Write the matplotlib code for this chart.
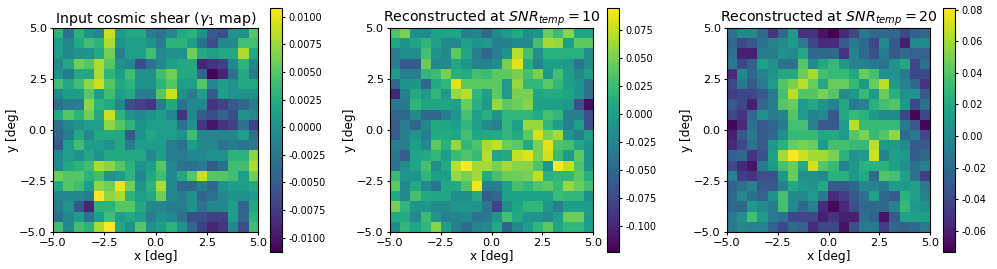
import numpy as np
import matplotlib
matplotlib.use('Agg')
import matplotlib.pyplot as plt

# mapas, fila superior primero
# gamma1 en unidades de 1e-3
mapa_input = [
    [3, -3, 3, 0, -1, 9, 1, 2, 2, -2, -3, -1, 2, 3, 0, -5, -6, 0, 0, 5],
    [1, -1, 2, 4, 3, 8, 0, 1, 1, 0, -2, 3, 3, 1, -3, -6, -1, -1, 4, 4],
    [1, -1, 0, 0, 2, 6, -2, 1, 1, 4, -1, 0, 0, 6, 2, 1, 2, 2, 8, 2],
    [-1, 2, 6, 5, 8, 5, 0, -1, -6, -3, -1, 1, 2, 2, -9, -8, -7, -1, 3, -1],
    [0, -2, 2, 2, 8, 3, 1, 4, 0, 0, 4, 6, 2, 2, -4, -11, -9, -3, 2, -2],
    [4, 2, 4, 7, 9, 5, 2, 3, 0, 0, 3, 5, 1, 1, 5, -1, 1, 0, 2, 2],
    [-1, 1, 1, 5, 1, 4, 1, 2, -2, -2, 5, 9, 0, -2, 1, -5, 1, 0, 0, 0],
    [-3, -2, -2, 7, 3, 2, -1, -6, -7, -8, -2, 2, -3, -1, -1, -8, -7, -5, -4, -2],
    [2, 5, 3, 6, 2, 9, 3, 0, -1, 0, 1, -1, -8, -1, -5, -6, -4, -6, 0, -1],
    [-3, -1, 0, 1, 1, 7, 5, 3, 0, 1, 1, 1, -3, 0, -8, -10, -8, -7, -3, -7],
    [-4, -2, 2, -1, 2, 2, 2, -5, 0, 2, 1, 1, 0, 4, -1, -1, -1, -1, 1, -3],
    [-5, 1, 4, 1, 1, 0, 2, -2, 1, 1, 1, -2, -3, 1, -1, -1, -3, -2, -3, -2],
    [-1, 1, 0, 2, 0, 2, 2, 2, 2, -1, 1, -2, -2, -1, -1, 0, 0, 3, 3, 7],
    [-1, 2, 3, 4, 8, 7, 5, 3, 0, 1, 5, -1, -3, -3, -2, -5, -3, 4, 4, 8],
    [6, 5, 5, 3, 4, 0, 1, 3, -1, 2, 4, -1, 2, 5, 9, 5, 5, 4, 1, 6],
    [2, 5, 4, 1, 7, 6, 10, 6, 0, 3, 8, -1, -4, -4, -2, -4, 0, 1, 1, 2],
    [-1, -1, -1, -2, 11, 7, 8, 3, 1, 2, 6, -1, -2, 0, -4, -3, -1, 0, 0, 1],
    [-2, 0, -5, -9, 3, 3, 5, 5, 2, -1, -1, -2, -2, 0, -3, -1, -1, 1, -4, 2],
    [-3, -1, 1, -3, 1, 4, 1, 2, 1, -2, 0, -1, -3, -6, -6, -7, -7, 1, -4, 3],
    [4, -1, 4, 3, 8, 11, 2, 0, 5, 0, 1, 3, 0, -4, -7, -9, -8, -1, -6, 4],
]

# reconstruidos en unidades de 1e-2
mapa_snr10 = [
    [3.5, 5, -1.5, -2, 0, 0.5, 0.5, -3, -2.5, -5, -2, -0.5, 1, -1.5, -1, 4.5, 2.5, 5.5, 0.5, 0.5],
    [0.5, -1, 0.5, 2, 0, -2, -2, 0, -1, -0.5, -3, -3, -2, -2, 3, 6.5, 6, 0, 4, 4],
    [-3, -1.5, -1.5, 3, -1, -2, 4, 0.5, -3, -5, -3, -1, 7, 3, -1.5, 1.5, 1.5, 1.5, 1.5, -1.5],
    [-3, -6, -6, 4.5, -2, -2, 0.5, -1, -2.5, -2.5, -1.5, 5, 8.5, 1, -2.5, 0, 0, -0.5, -4, -1.5],
    [-0.5, -3, -3, 2, 2.5, 5, 1.5, 1, 3, 2.5, 4, 4, 5, 3, 5, -0.5, 3, 0, -2, 0],
    [-5, -1, -1, -5, 1, 2, 8.5, 4, 4, 4, 4, -0.5, 6, 2, 2, 4, 2, 0, -1, -4],
    [-10, -3, 1, -0.5, 2, -0.5, 6, 7, 2, 0, 4, -0.5, 5, 5, 0.5, 1, 1, 0.5, -1, -4],
    [-3.5, -3.5, 2, 0.5, 0.5, 0.5, 0, 4.5, 1.5, -0.5, 6, 4, 4.5, 5.5, 0, 0, 0, -0.5, -7, -11.5],
    [-5, -5, -2, -5, -5, -3, -1, 3, 0, 1.5, -1, 2, 2, 2, 1, 3, 2, -3, -3, -7],
    [-6, -3, -5, -2, 1, 0.5, 0, 2, 0, -2, -3, 2, 0, 6, 6, 2, 0, -3, 0, -7],
    [-6, -3, -1, -3, 1, 1, 0.5, 3, 0.5, 1, 1, 2, 1, 4, 8, 5, 6.5, -1, -3, 0],
    [-3, -3, 0, -2, 4, 1.5, 6, 2, 3.5, 6.5, 7.5, 4.5, 4, 1, 5, 8.5, 3.5, 3, 0.5, -1],
    [-3.5, -6, 0.5, 1, 2, 0, 2.5, 3.5, 2.5, 7, 0.5, 1, 7.5, 8.5, 5, 8, 2.5, -0.5, 4, -1],
    [-4, -1.5, 0.5, 3, -1.5, 1, 7, 9.5, 6.5, 6.5, 5, 6.5, 5.5, 5.5, 3.5, -0.5, 9.5, 7.5, 3.5, -1],
    [2.5, -1, -1, 2, 0, 0, 6, 5, 6.5, 1, 3, 4.5, 4.5, 5, 7.5, 1.5, 2, 2, 4, 1.5],
    [4, -2, 1, -2, -4, 1, 1, 3.5, 9, -3, -3, 0, 3, 2, 3.5, 4, 2.5, 6, 4.5, 3],
    [1, -2, 3, 1, 0.5, 0.5, -1.5, -1.5, 1, -6, -5, 0, 0, 0, 0, 0, 2.5, 2, 2, -1.5],
    [5, 2, -1, -1, -2, -2, -1, -1, -1, -3.5, -8, -1.5, 0.5, 2, 2, -1, -3, 0, 0, -0.5],
    [1, 1, -2, 2.5, -1, -3, -2.5, -2, -4, -3.5, -1, 3, 1, -1, -1, -2, 0, 4.5, 4.5, -0.5],
    [-2, 2, 0.5, 2, 5.5, 0, -3, -4.5, -2.5, -2, 1, -5, -2, 0, 2, 4, 0.5, 2, 2, 0],
]

mapa_snr20 = [
    [-1.5, 0, 0, -2, -5, -2, 1, -5, -5, -6.5, -7.5, -5.5, -4, -1, -2, -2, -2, -4, -2.5, -2],
    [-2, -4, -3, -1.5, -0.5, 0, 1, -1, -4, -5.5, -5.5, -3, -1, -2, -4, 0, -3, -6, 0, 0],
    [-1.5, -6, -6, -1, -1, 0.5, 0, 2, -2, -2, -2, -5, -0.5, -2, -3.5, -1, -3, -2, -2.5, -2.5],
    [-1, -4, -2.5, 1.5, 0.5, -1.5, -1.5, 4, 0, 2, 3, 1, -0.5, -0.5, -1, -1.5, 0.5, 2, -4, -1.5],
    [-5.5, 0, -2, -0.5, 0.5, 2, 2, 4.5, 6, 3.5, 3, 3, 2, 4.5, 3.5, 0.5, 0.5, -1, -4, -4],
    [-4, -1, -3, -1, 1, 4, 5, 6.5, 4.5, 2, 4.5, 4.5, 3, 1, 4.5, 6.5, 1, -0.5, -2, -5],
    [-4.5, -4, -4, -3, -1, 3.5, 6.5, 4, 4, 5, 4, 0, 1, 3, 1, 4.5, 2.5, 0.5, 0.5, -3],
    [-3, -4, -6, -2, -1, 4, 4.5, 1, 2, 0.5, -0.5, 2, -1, -0.5, 2.5, 3.5, 4, 1, -4, -1.5],
    [-4, -5, -2, 0.5, -1, -0.5, 4, 1, -0.5, 0, -3, 2, 3, 2.5, 1, 0, 0, -4, -7, -4],
    [-7, -5.5, -1.5, -3, -2.5, -1, 3.5, 3.5, -0.5, -3, -3, 1, 6.5, 3, 3, 3, 3, -1, -3, -7],
    [-6, -3, -1, -3, -2, 0.5, 3, 3, 3, 2, 2, 1, 4, 5, 3, 4, 5.5, -2, -1, -4],
    [-5.5, -4, -1.5, -3, 1, 2.5, 4.5, 5, 4.5, 1, 3.5, 3.5, 3, 3, 6.5, 1, 1, 0, -3, -3],
    [-2.5, -2, -5, -3.5, 1.5, 6, 8, 7, 6, 6, 5, 2.5, 0.5, 1, 7, -0.5, 1.5, 1, -3, -2],
    [-4, -5.5, -6.5, -1, 1, 3.5, 4.5, 2, 7, 4, 3, -0.5, 1, 2.5, 2.5, 2.5, 1.5, 0.5, -1.5, -0.5],
    [-0.5, -4.5, -5, -3.5, -3.5, 1, 4.5, 0.5, 0.5, 0, 2.5, 2.5, 1, 2, -2, 4, 3.5, 1.5, -1.5, -4.5],
    [-2.5, -1.5, -0.5, -3, -3, -0.5, 2, 1, 0.5, 2, -3, -3, -2, 0, -0.5, -1, 1, 1, 1.5, -1],
    [-2, 0, -1.5, -2.5, 0.5, 3.5, 0, 0, 1, -1, -5.5, -4.5, -3, -1.5, 1.5, -2, -3, 2.5, 1.5, -0.5],
    [-2, -2, 1, 0, -1, 3.5, 0, -2, -0.5, -5.5, -7, -5.5, -3.5, -2, -2, -2, -0.5, 3, 1, 0.5],
    [-1, 0.5, 3.5, 1, -1, -1.5, -4, -4, -4, -6, -5, -6, -6, -1.5, -2.5, -6.5, -3, 1.5, 1.5, 1.5],
    [-1, 0, -0.5, -0.5, -2.5, -4, -2, -2.5, -5.5, -4, -4, -6.5, -3.5, -1, -1, -4.5, -2, -2.5, -2, -1],
]

titulos = ['Input cosmic shear ($\\gamma_1$ map)',
           'Reconstructed at $SNR_{temp}=10$',
           'Reconstructed at $SNR_{temp}=20$']
escalas = [1e-3, 1e-2, 1e-2]
limites = [(-0.0113, 0.0108), (-0.1232, 0.0946), (-0.0733, 0.081)]
ticks_cbar = [
    [-0.01, -0.0075, -0.005, -0.0025, 0, 0.0025, 0.005, 0.0075, 0.01],
    [-0.1, -0.075, -0.05, -0.025, 0, 0.025, 0.05, 0.075],
    [-0.06, -0.04, -0.02, 0, 0.02, 0.04, 0.06, 0.08],
]
formatos = ['%.4f', '%.3f', '%.2f']
ticks_ejes = [-5, -2.5, 0, 2.5, 5]

ANCHO, ALTO = 997, 269
cajas_mapa = [(53, 258), (390, 593), (727, 930)]
cajas_cbar = [(270, 282), (607, 619), (943, 955)]


def caja(x0, x1, y0, y1):
    # pasa pixeles de la imagen (y hacia abajo) a coordenadas de figura
    return [x0 / ANCHO, 1 - y1 / ALTO, (x1 - x0) / ANCHO, (y1 - y0) / ALTO]


fig = plt.figure(figsize=(ANCHO / 100, ALTO / 100), dpi=100)

mapas = [mapa_input, mapa_snr10, mapa_snr20]
for i, mapa in enumerate(mapas):
    ax = fig.add_axes(caja(*cajas_mapa[i], 28, 232))
    im = ax.imshow(np.array(mapa) * escalas[i], cmap='viridis', extent=[-5, 5, -5, 5],
                   vmin=limites[i][0], vmax=limites[i][1], interpolation='nearest', aspect='auto')
    ax.set_title(titulos[i], fontsize=10.2, pad=3)
    ax.set_xlabel('x [deg]', fontsize=8.7, labelpad=1.5)
    ax.set_ylabel('y [deg]', fontsize=8.7, labelpad=0)
    ax.set_xticks(ticks_ejes)
    ax.set_yticks(ticks_ejes)
    ax.tick_params(labelsize=8.2, length=2.5, pad=2)

    cax = fig.add_axes(caja(*cajas_cbar[i], 8, 252))
    cb = fig.colorbar(im, cax=cax, ticks=ticks_cbar[i], format=formatos[i])
    cb.ax.tick_params(labelsize=7, length=2.5, pad=2)

fig.savefig('out.png', dpi=100)
plt.close(fig)
